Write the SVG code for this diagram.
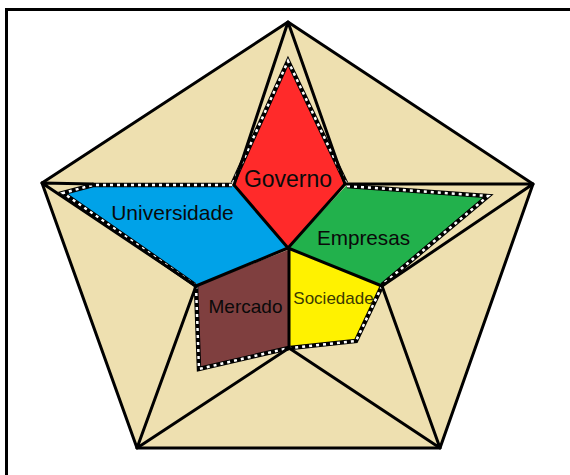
<svg xmlns="http://www.w3.org/2000/svg" width="570" height="475" viewBox="0 0 570 475">
<style>
.ln{stroke:#000;stroke-width:3;fill:none;stroke-linecap:round;stroke-linejoin:round}
.db{stroke:#000;stroke-width:4.5;fill:none;stroke-linejoin:miter}
.dw{stroke:#fff;stroke-width:2.5;fill:none;stroke-dasharray:3 4}
.t{font-family:"Liberation Sans",Arial,sans-serif;text-anchor:middle;fill:#0a0a0a}
</style>
<rect x="0" y="0" width="570" height="475" fill="#fff"/>
<rect x="6.5" y="9.5" width="580" height="490" fill="none" stroke="#000" stroke-width="3"/>
<g id="pentagon">
<polygon points="288,22 533,184 440,448 137,448 42,183" fill="#EEE0B0" stroke="#000" stroke-width="3" stroke-linejoin="round"/>
</g>
<g id="governo">
<polygon points="234,185 288,63 345,184 288,248" fill="#FF2A2A"/>
<polyline class="db" points="233,183 288,61 346,183"/>
<polyline class="dw" points="233,183 288,61 346,183"/>
<text class="t" x="288" y="186.5" font-size="23">Governo</text>
</g>
<g id="universidade">
<polygon points="233,186 93,186 63,193 195,286 288,248" fill="#00A2E8"/>
<polyline class="db" points="232,185 93,185 63,193 195,285"/>
<polyline class="dw" points="232,185 93,185 63,193 195,285"/>
<text class="t" x="172.5" y="220" font-size="21">Universidade</text>
</g>
<g id="empresas">
<polygon points="346,186 488,196 382,285 288,248" fill="#22B14C"/>
<polyline class="db" points="347,186 488,196 382,285"/>
<polyline class="dw" points="347,186 488,196 382,285"/>
<text class="t" x="363.5" y="245" font-size="20.7">Empresas</text>
</g>
<g id="sociedade">
<polygon points="289,250 382,286 356,341 290,348" fill="#FFF200"/>
<polyline class="db" points="382,286 356,341 290,348"/>
<polyline class="dw" points="382,286 356,341 290,348"/>
<text class="t" x="333.5" y="304" font-size="17" style="fill:#3a3a00">Sociedade</text>
</g>
<g id="mercado">
<polygon points="288,250 196,286 199,369 289,348" fill="#7F3F3F"/>
<polyline class="db" points="196,286 199,369 289,348"/>
<polyline class="dw" points="196,286 199,369 289,348"/>
<text class="t" x="245.5" y="313.3" font-size="19">Mercado</text>
</g>
<g id="connectors">
<path class="ln" d="M288,22 L234,185 M288,22 L345,184 M42,183 L93,184 M42,183 L196,286 M533,184 L346,184 M533,184 L382,286 M440,448 L382,286 M440,448 L289,348 M137,448 L289,348 M137,448 L196,286"/>
<path class="ln" d="M288,248 L234,185 M288,248 L345,184 M288,248 L382,286 M288,248 L196,286 M289,248 L289,348"/>
</g>
</svg>
